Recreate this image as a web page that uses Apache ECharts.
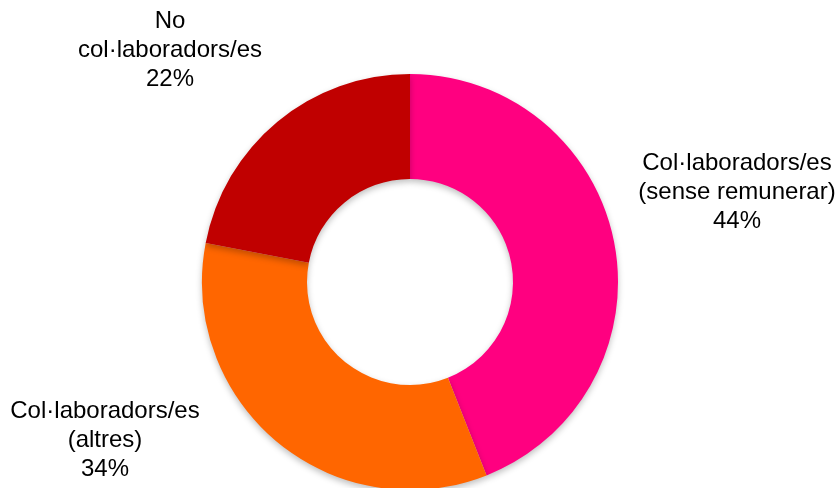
<!DOCTYPE html>
<html><head><meta charset="utf-8">
<script src="https://cdn.jsdelivr.net/npm/echarts@6/dist/echarts.min.js"></script>
<style>html,body{margin:0;padding:0;background:#fff}#c{width:840px;height:488px}</style>
</head><body><div id="c"></div>
<script>
const categories = ['Col·laboradors/es\n(sense remunerar)', 'Col·laboradors/es\n(altres)', 'No\ncol·laboradors/es'];
const values = [44, 34, 22];
const colors = ['#FF0080', '#FF6600', '#C00000'];
const labelPos = [[737, 192], [105, 440], [170, 50]];

const chart = echarts.init(document.getElementById('c'));
chart.setOption({
  animation: false,
  series: [{
    type: 'pie',
    center: [410, 282],
    radius: [103, 208],
    startAngle: 90,
    clockwise: true,
    data: categories.map((n, i) => ({ name: n, value: values[i], itemStyle: { color: colors[i] } })),
    itemStyle: { shadowColor: 'rgba(0,0,0,0.25)', shadowBlur: 6, shadowOffsetY: 3 },
    label: {
      show: true,
      position: 'outside',
      overflow: 'none',
      width: 300,
      formatter: p => p.name + '\n' + p.value + '%',
      fontFamily: 'Liberation Sans, Arial, sans-serif',
      fontSize: 24,
      lineHeight: 29,
      color: '#000',
      align: 'center'
    },
    labelLine: { show: false },
    labelLayout: p => ({ x: labelPos[p.dataIndex][0], y: labelPos[p.dataIndex][1], align: 'center', verticalAlign: 'middle' }),
    emphasis: { disabled: true }
  }]
});
</script></body></html>
